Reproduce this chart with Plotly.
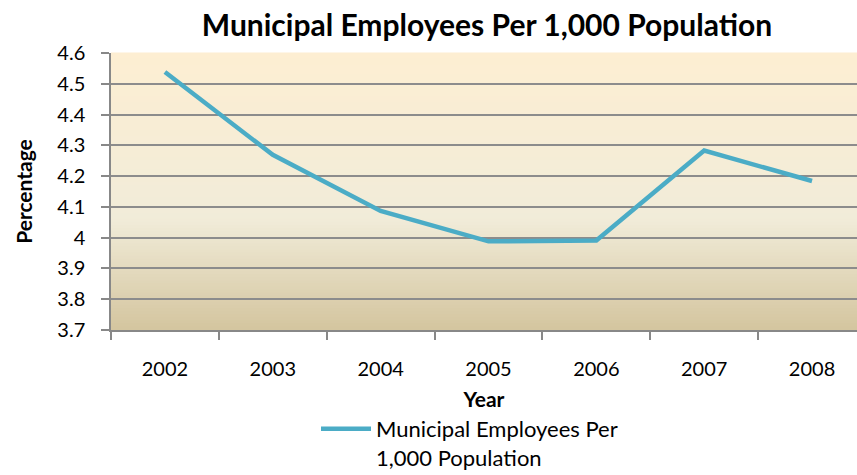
import plotly.graph_objects as go

# Data
years = ["2002", "2003", "2004", "2005", "2006", "2007", "2008"]
employees_per_1000 = [4.538, 4.269, 4.087, 3.988, 3.991, 4.283, 4.184]
series_name = "Municipal Employees Per<br>1,000 Population"
y_ticks = [3.7, 3.8, 3.9, 4.0, 4.1, 4.2, 4.3, 4.4, 4.5, 4.6]
y_tick_labels = ["3.7", "3.8", "3.9", "4", "4.1", "4.2", "4.3", "4.4", "4.5", "4.6"]

FONT = "Lato, Carlito, 'Open Sans', sans-serif"
W, H = 857, 475
L, R, T, B = 111, 0, 53, 145  # plot area: x 111..857, y 53..330
PW, PH = W - L - R, H - T - B

fig = go.Figure()
fig.add_trace(go.Scatter(
    x=years, y=employees_per_1000, mode="lines", name=series_name,
    line=dict(color="#4BACC6", width=4.5),
))


def lerp(c1, c2, t):
    return tuple(round(a + (b - a) * t) for a, b in zip(c1, c2))


# vertical gradient behind the plot area
stops = [(0.0, (253, 238, 210)), (0.6, (241, 236, 217)), (1.0, (212, 197, 159))]
n = 90
shapes = []
for i in range(n):
    t = (i + 0.5) / n  # 0 at top, 1 at bottom
    for (t0, c0), (t1, c1) in zip(stops, stops[1:]):
        if t0 <= t <= t1:
            c = lerp(c0, c1, (t - t0) / (t1 - t0))
            break
    shapes.append(dict(
        type="rect", xref="x domain", yref="y domain", layer="below",
        x0=0, x1=1, y0=1 - (i + 1) / n - 0.002, y1=1 - i / n + 0.002,
        fillcolor="rgb(%d,%d,%d)" % c, line=dict(width=0),
    ))

fig.update_layout(
    width=W, height=H,
    margin=dict(l=L, r=R, t=T, b=B, pad=0, autoexpand=False),
    paper_bgcolor="white", plot_bgcolor="rgba(0,0,0,0)",
    shapes=shapes,
    title=dict(text="<b>Municipal Employees Per 1,000 Population</b>",
               x=487 / W, xanchor="center", y=1 - 25 / H, yanchor="middle",
               font=dict(family=FONT, size=30, color="black")),
    font=dict(family=FONT, color="black"),
    showlegend=True,
    legend=dict(x=(316 - L) / PW, xanchor="left",
                y=(T + PH - 408) / PH, yanchor="top", valign="top",
                font=dict(family=FONT, size=22, color="black"),
                bgcolor="rgba(0,0,0,0)", itemwidth=50, tracegroupgap=0),
)

fig.update_xaxes(
    type="category", range=[-0.5, 6.417], automargin=False,
    tickson="boundaries", ticks="outside", ticklen=8, tickcolor="#888888", tickwidth=1.5,
    showline=True, linecolor="#888888", linewidth=1.5, showgrid=False,
    ticklabelstandoff=20,
    tickfont=dict(family=FONT, size=20, color="black"),
    title=dict(text="<b>Year</b>", font=dict(family=FONT, size=21, color="black"), standoff=14),
)
fig.update_yaxes(
    range=[3.7, 4.6], tickvals=y_ticks, ticktext=y_tick_labels, automargin=False,
    ticks="outside", ticklen=8, tickcolor="#888888", tickwidth=1.5,
    showline=True, linecolor="#888888", linewidth=1.5,
    showgrid=True, gridcolor="#8c8c8c", gridwidth=1.5, zeroline=False,
    ticklabelstandoff=12,
    tickfont=dict(family=FONT, size=20, color="black"),
    title=dict(text="<b>Percentage</b>", font=dict(family=FONT, size=21, color="black"), standoff=19),
)

fig.write_html("out.html")
